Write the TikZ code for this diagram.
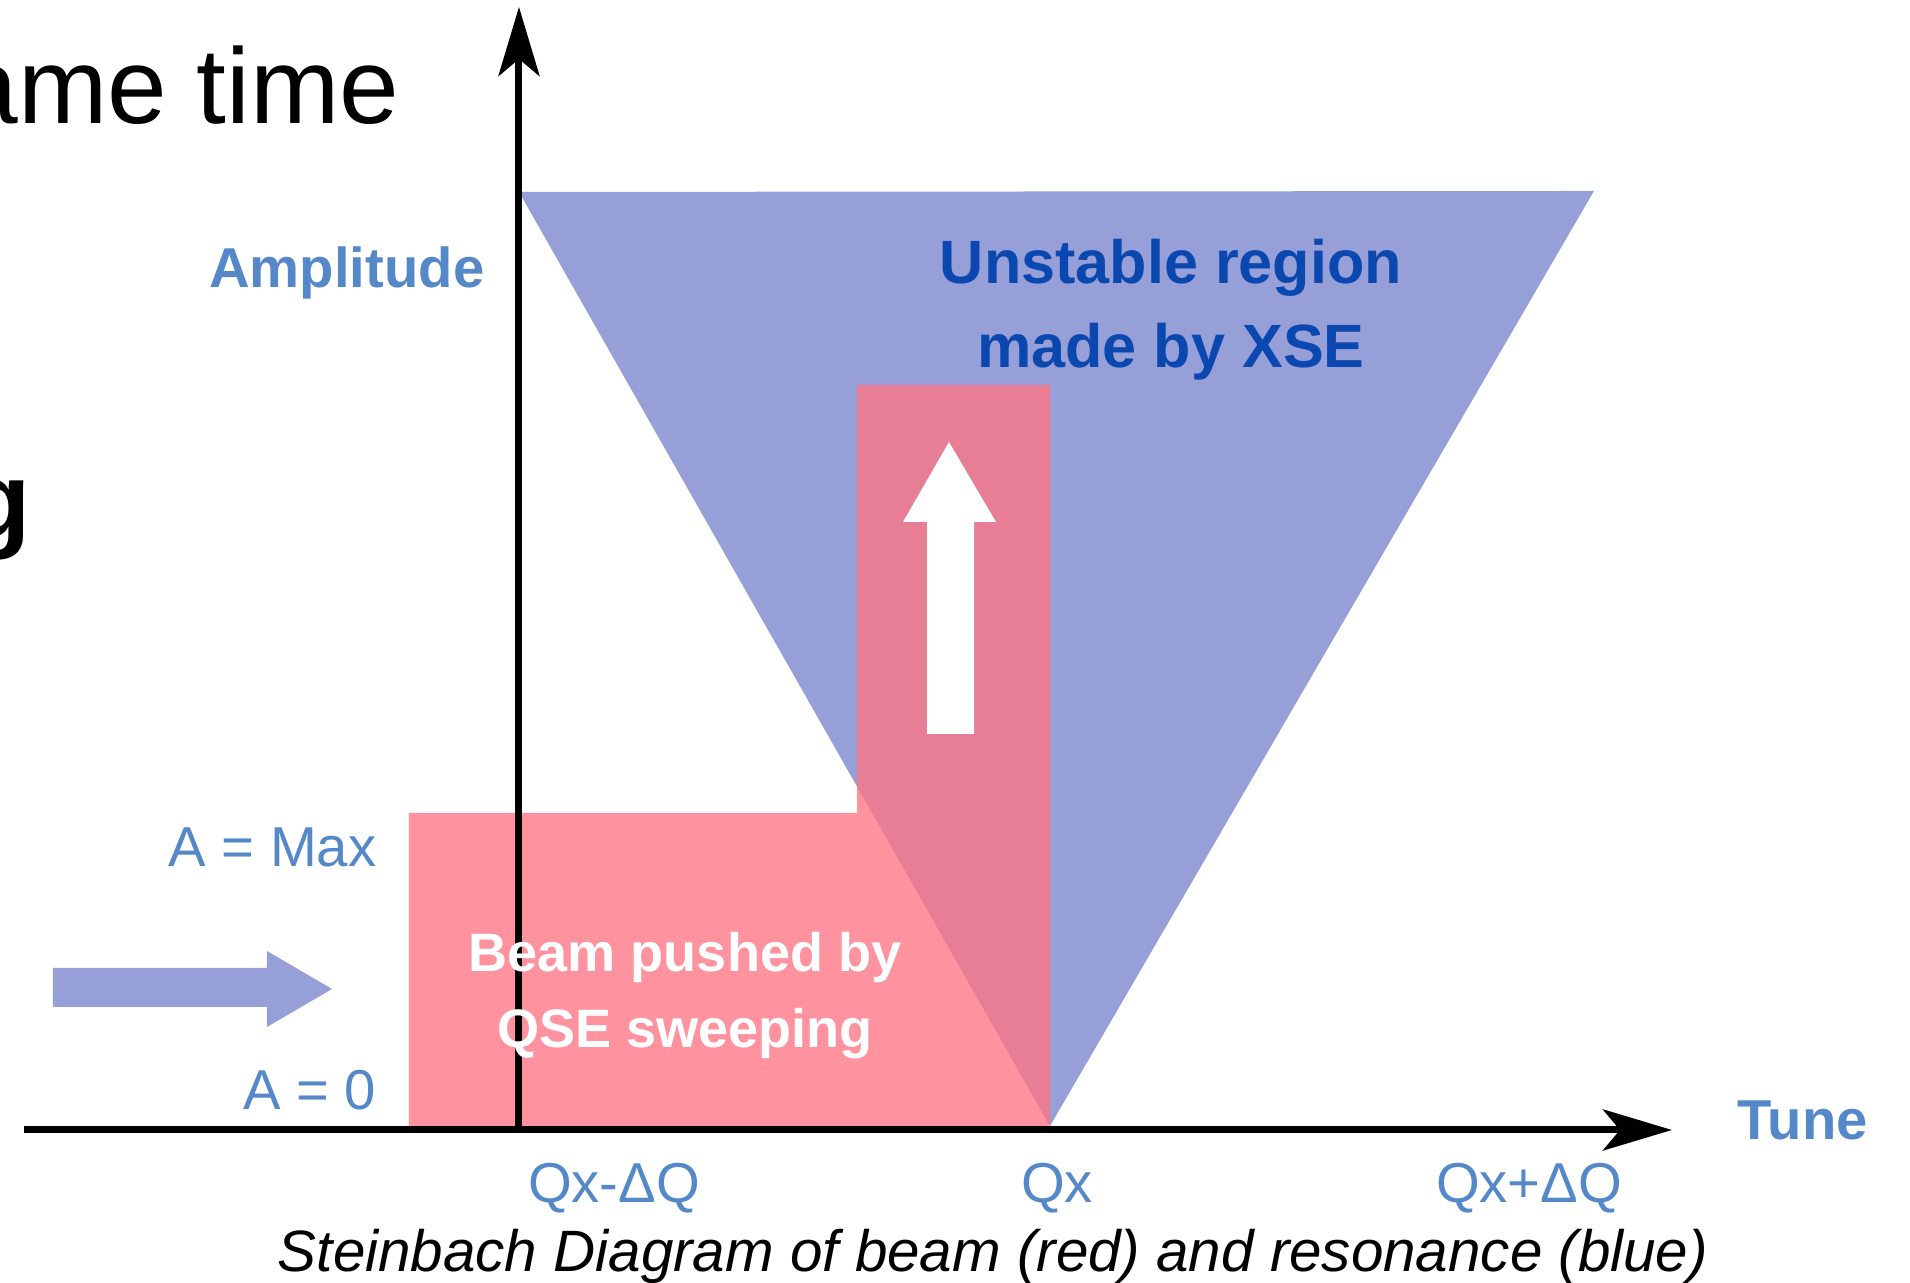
\documentclass[tikz,border=0pt]{standalone}
\usepackage{fontspec}
\setmainfont{Liberation Sans}
\usetikzlibrary{arrows.meta}

\definecolor{resblue}{RGB}{151,159,217}
\definecolor{beamred}{RGB}{255,117,133}
\definecolor{labelblue}{RGB}{84,136,201}
\definecolor{titleblue}{RGB}{10,72,176}

\begin{document}
\begin{tikzpicture}
        \tikzset{
            axis/.style={
                    line width=0.07cm,
                    -{Stealth[length=0.69cm, width=0.41cm, inset=0.17cm]},
                },
            region/.style={fill=resblue},
            beam/.style={fill=beamred, fill opacity=0.79},
            push/.style={fill=white},
            label/.style={
                    text=labelblue,
                    inner sep=0,
                    font=\fontsize{16}{19}\selectfont,
                },
            boldlabel/.style={label, font=\fontsize{16}{19}\selectfont\bfseries},
            heading/.style={
                    inner sep=0,
                    font=\fontsize{30.5}{36}\selectfont,
                },
        }
        \useasboundingbox (-5.19, -1.53) rectangle (13.91, 11.30);
        % \draw (-5, -1) grid (13, 11);
        \coordinate (origin) at (0, 0);
        \coordinate (ytip) at (0, 11.23);
        \coordinate (xstart) at (-4.95, 0);
        \coordinate (xtip) at (11.53, 0);

        % resonance and beam
        \fill[region] (0, 9.38) -- (10.75, 9.39) -- (5.31, 0.04) -- cycle;
        \fill[beam] (-1.10, 0.04) -- (-1.10, 3.17) -- (3.38, 3.17) -- (3.38, 7.45)
            -- (5.31, 7.45) -- (5.31, 0.04) -- cycle;
        \fill[push] (4.08, 3.96) -- (4.55, 3.96) -- (4.55, 6.08) -- (4.77, 6.08)
            -- (4.30, 6.88) -- (3.84, 6.08) -- (4.08, 6.08) -- cycle;
        \fill[region] (-4.66, 1.23) -- (-2.52, 1.23) -- (-2.52, 1.03) -- (-1.87, 1.41)
            -- (-2.52, 1.79) -- (-2.52, 1.62) -- (-4.66, 1.62) -- cycle;

        % axes
        \draw[axis] (origin) -- (ytip);
        \draw[axis] (xstart) -- (xtip);

        \node[heading, anchor=base east] (same) at (-1.19, 10.06) {ame time};
        \node[heading, anchor=base east, font=\fontsize{30.5}{36}\selectfont\bfseries] (cut) at (-4.87, 5.92) {g};

        \node[boldlabel, anchor=base east] (ampl) at (-0.34, 8.42) {Amplitude};
        \node[label, anchor=base east] (amax) at (-1.42, 2.63) {A = Max};
        \node[label, anchor=base east] (azero) at (-1.42, 0.20) {A = 0};
        \node[boldlabel, anchor=base west] (tune) at (12.18, -0.10) {Tune};
        \node[label, anchor=base] (qlow) at (0.95, -0.73) {Qx-ΔQ};
        \node[label, anchor=base] (qx) at (5.38, -0.73) {Qx};
        \node[label, anchor=base] (qhigh) at (10.10, -0.73) {Qx+ΔQ};

        \node[inner sep=0, anchor=base, text=titleblue, font=\fontsize{17.4}{23.8}\selectfont\bfseries] (unst) at (6.52, 8.46) {Unstable region};
        \node[inner sep=0, anchor=base, text=titleblue, font=\fontsize{17.4}{23.8}\selectfont\bfseries] (xse) at (6.52, 7.62) {made by XSE};
        \node[inner sep=0, anchor=base, text=white, font=\fontsize{15.4}{21.6}\selectfont\bfseries] (pushed) at (1.66, 1.58) {Beam pushed by};
        \node[inner sep=0, anchor=base, text=white, font=\fontsize{15.4}{21.6}\selectfont\bfseries] (qse) at (1.66, 0.82) {QSE sweeping};

        \node[inner sep=0, anchor=base, font=\fontsize{16.6}{20}\selectfont\itshape] (caption) at (4.74, -1.42) {Steinbach Diagram of beam (red) and resonance (blue)};
    \end{tikzpicture}
\end{document}
